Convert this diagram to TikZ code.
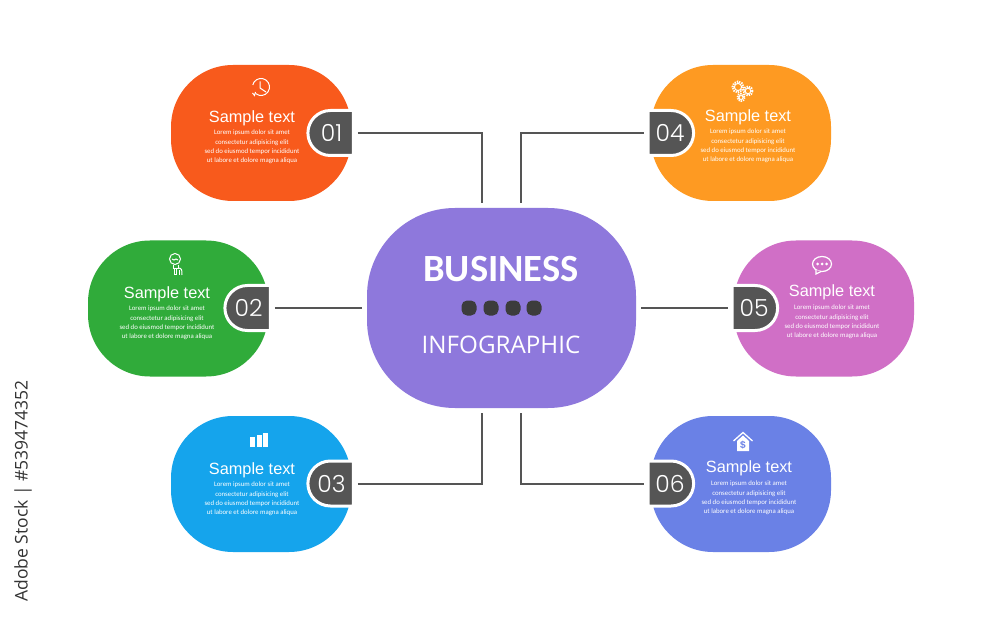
\documentclass[tikz,border=0pt]{standalone}
\usepackage{fontspec}
\setmainfont{Liberation Sans}
\newfontfamily\numfont{Poppins Light}
\newfontfamily\bodyfont{Open Sans}
\newfontfamily\titlefont{Carlito}
\usetikzlibrary{shapes.misc}
\definecolor{tabgrey}{HTML}{555555}
\definecolor{dotgrey}{HTML}{3C3C3C}
\definecolor{stockgrey}{HTML}{333333}
\definecolor{redorange}{HTML}{F85A1C}
\definecolor{amber}{HTML}{FE9A22}
\definecolor{leaf}{HTML}{30AB3A}
\definecolor{sky}{HTML}{15A4EC}
\definecolor{orchid}{HTML}{D06FC6}
\definecolor{periwinkle}{HTML}{6A81E6}
\definecolor{violet}{HTML}{8E78DC}
\begin{document}
\begin{tikzpicture}[
            x=1pt,y=-1pt,
            blob/.style={rectangle,minimum width=180pt,minimum height=136pt,rounded corners=62pt,inner sep=0pt},
            tabshape/.style={rounded rectangle,fill=tabgrey,draw=white,line width=3pt,minimum width=45.5pt,minimum height=45pt,inner sep=0pt,
                    text=white,font=\numfont\fontsize{23.5}{24}\selectfont},
            tabr/.style={tabshape,rounded rectangle right arc=none},
            tabl/.style={tabshape,rounded rectangle left arc=none},
            head/.style={text=white,font=\fontsize{16.3}{17}\selectfont,inner sep=0pt},
            lorem/.style={text=white,align=center,inner sep=0pt,font=\titlefont\fontsize{6.8}{9.2}\selectfont},
            wire/.style={draw=tabgrey,line width=2pt,shorten <=3pt,shorten >=5pt},
            dot/.style={fill=dotgrey,rounded corners=5.5pt,minimum size=15pt,inner sep=0pt},
            icon/.style={draw=white,line width=1pt}
        ]
        \useasboundingbox (0,0) rectangle (1000,617);
        \fill[white] (0,0) rectangle (1000,617);

        \node[blob,fill=redorange] (b1) at (261,133) {};
        \node[blob,fill=leaf] (b2) at (178,308.5) {};
        \node[blob,fill=sky] (b3) at (261,484) {};
        \node[blob,fill=amber] (b4) at (741,133) {};
        \node[blob,fill=orchid] (b5) at (824,308.5) {};
        \node[blob,fill=periwinkle] (b6) at (741,484) {};

        \node[rectangle,fill=violet,minimum width=269pt,minimum height=200pt,rounded corners=88pt,inner sep=0pt] (hub) at (501.5,308) {};
        \node[text=white,font=\titlefont\bfseries\fontsize{38.5}{40}\selectfont,inner sep=0pt] (title) at (501,269) {BUSINESS};
        \node[text=white,font=\bodyfont\fontsize{24.2}{25}\selectfont,inner sep=0pt] (subtitle) at (501,345) {INFOGRAPHIC};
        \node[dot] (d1) at (469,308) {};
        \node[dot] (d2) at (491,308) {};
        \node[dot] (d3) at (513,308) {};
        \node[dot] (d4) at (534,308) {};

        \node[tabr] (t1) at (331.5,133) {01};
        \node[tabr] (t2) at (248.5,308) {02};
        \node[tabr] (t3) at (331.5,483.5) {03};
        \node[tabl] (t4) at (670,133) {04};
        \node[tabl] (t5) at (754,308) {05};
        \node[tabl] (t6) at (670,483.5) {06};

        \draw[wire] (t1.east) -| ([xshift=-20pt]hub.north);
        \draw[wire] (t2.east) -- (t2.east -| hub.west);
        \draw[wire] (t3.east) -| ([xshift=-20pt]hub.south);
        \draw[wire] (t4.west) -| ([xshift=19pt]hub.north);
        \draw[wire] (t5.west) -- (t5.west -| hub.east);
        \draw[wire] (t6.west) -| ([xshift=19pt]hub.south);

        \node[head] (h1) at (252,118) {Sample text};
        \node[head] (h2) at (167,294) {Sample text};
        \node[head] (h3) at (252,470) {Sample text};
        \node[head] (h4) at (748,117) {Sample text};
        \node[head] (h5) at (832,292) {Sample text};
        \node[head] (h6) at (749,468) {Sample text};

        \node[lorem] (l1) at (252,147) {Lorem ipsum dolor sit amet\\consectetur adipisicing elit\\sed do eiusmod tempor incididunt\\ut labore et dolore magna aliqua};
        \node[lorem] (l2) at (167,323) {Lorem ipsum dolor sit amet\\consectetur adipisicing elit\\sed do eiusmod tempor incididunt\\ut labore et dolore magna aliqua};
        \node[lorem] (l3) at (252,499) {Lorem ipsum dolor sit amet\\consectetur adipisicing elit\\sed do eiusmod tempor incididunt\\ut labore et dolore magna aliqua};
        \node[lorem] (l4) at (748,146) {Lorem ipsum dolor sit amet\\consectetur adipisicing elit\\sed do eiusmod tempor incididunt\\ut labore et dolore magna aliqua};
        \node[lorem] (l5) at (832,322) {Lorem ipsum dolor sit amet\\consectetur adipisicing elit\\sed do eiusmod tempor incididunt\\ut labore et dolore magna aliqua};
        \node[lorem] (l6) at (749,498) {Lorem ipsum dolor sit amet\\consectetur adipisicing elit\\sed do eiusmod tempor incididunt\\ut labore et dolore magna aliqua};

        \draw[icon] (261,87) ++(-166:8.5) arc (-166:130:8.5);
        \draw[icon] (260,81.5) -- (260,88) -- (266,92);
        \draw[icon] (252.5,93) -- (254.5,95.5) -- (255.5,92);

        \draw[icon] (175,259) circle (5.5);
        \draw[icon] (172,259) -- (174,260) -- (176,259) -- (178,260);
        \draw[icon] (173,265) -- (173,269) -- (178,269) -- (178,265);
        \draw[icon] (174,269) -- (174,275) -- (176,275) -- (176,269);
        \draw[icon] (178,268) .. controls (182,268) and (182,270) .. (182,275);
        \draw[icon] (179,275) -- (179,270);

        \fill[white] (250,436.7) rectangle (255,447);
        \fill[white] (256.7,434.5) rectangle (261.7,447);
        \fill[white] (262.7,432.7) rectangle (268,447);

        \draw[icon,line width=2pt,dash pattern=on 1.3pt off 1.1pt] (738,87) circle (5.5);
        \draw[icon] (738,87) circle (3.6);
        \draw[icon,line width=2pt,dash pattern=on 1.3pt off 1.1pt] (748,91) circle (4.5);
        \draw[icon] (748,91) circle (2.8);
        \draw[icon,line width=2pt,dash pattern=on 1.2pt off 1pt] (741,97.5) circle (3.5);
        \draw[icon] (741,97.5) circle (2);

        \draw[icon,line width=1.2pt] (822,264) ellipse (9.5 and 7.5);
        \draw[icon,fill=orchid,line width=1.2pt] (816,270) -- (816,274) -- (821,271.5);
        \fill[white] (817.5,264) circle (1.5);
        \fill[white] (822,264) circle (1.5);
        \fill[white] (826.5,264) circle (1.5);

        \fill[white] (737,441) -- (743,435.5) -- (749,441) -- (749,451) -- (737,451) -- cycle;
        \draw[icon,line width=1.3pt] (733.5,441) -- (743,432.5) -- (752.5,441);
        \node[text=periwinkle,font=\bfseries\fontsize{10}{10}\selectfont,inner sep=0pt] (dollar) at (743,445) {\$};

        \node[rotate=90,text=stockgrey,font=\bodyfont\fontsize{17.5}{18}\selectfont,inner sep=0pt] (stock) at (23,491) {Adobe Stock | \#539474352};
    \end{tikzpicture}
\end{document}
